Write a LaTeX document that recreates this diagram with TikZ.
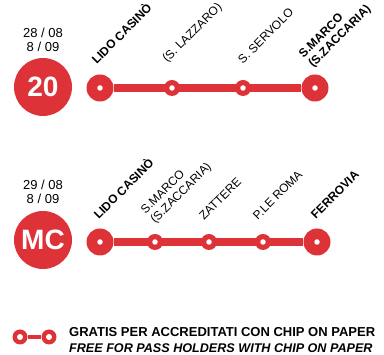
\documentclass[tikz,border=0pt]{standalone}
\usepackage{fontspec}
\setmainfont{Liberation Sans}
\usepackage{xcolor}
\usetikzlibrary{positioning}
\definecolor{linered}{RGB}{221,50,56}

\tikzset{
  bigstop/.style={circle, fill=linered, minimum size=27pt, inner sep=0pt},
  smallstop/.style={circle, fill=linered, minimum size=16pt, inner sep=0pt},
  hole/.style={circle, fill=white, minimum size=5.5pt, inner sep=0pt},
  linebadge/.style={circle, fill=linered, minimum size=58pt, inner sep=0pt, text=white, font=\fontsize{28}{28}\selectfont\bfseries},
  datelbl/.style={align=center, font=\fontsize{13}{14}\selectfont, inner sep=0pt},
  stoplbl/.style={rotate=45, anchor=south west, align=left, inner sep=0pt, font=\fontsize{12}{13.5}\selectfont},
  boldlbl/.style={stoplbl, font=\fontsize{12}{13.5}\selectfont\bfseries},
  track/.style={draw=linered, line width=7.5pt}
}

\begin{document}
\begin{tikzpicture}[x=1pt,y=1pt]
  \useasboundingbox (0,0) rectangle (384,355);

  % line 20
  \node [datelbl] (d20) at (43,315) {28 / 08\\8 / 09};
  \node [linebadge] (b20) at (43,268) {20};
  \node [bigstop] (a1) at (100,267) {};
  \node [smallstop] (a2) at (172,267) {};
  \node [smallstop] (a3) at (243,267) {};
  \node [bigstop] (a4) at (315,267) {};
  \draw [track] (a1) -- (a4);
  \foreach \s in {a1,a2,a3,a4} \node [hole] at (\s) {};
  \node [boldlbl] (l1) at (97,290) {LIDO CASINÒ};
  \node [stoplbl] (l2) at (169,290) {(S. LAZZARO)};
  \node [stoplbl] (l3) at (243,290) {S. SERVOLO};
  \node [boldlbl] (l4) at (315,285) {S.MARCO\\(S.ZACCARIA)};

  % line MC
  \node [datelbl] (dmc) at (43,163) {29 / 08\\8 / 09};
  \node [linebadge] (bmc) at (43,115) {MC};
  \node [bigstop] (m1) at (100,113) {};
  \node [smallstop] (m2) at (155,113) {};
  \node [smallstop] (m3) at (209,113) {};
  \node [smallstop] (m4) at (263,113) {};
  \node [bigstop] (m5) at (317,113) {};
  \draw [track] (m1) -- (m5);
  \foreach \s in {m1,m2,m3,m4,m5} \node [hole] at (\s) {};
  \node [boldlbl] (k1) at (99,135) {LIDO CASINÒ};
  \node [stoplbl] (k2) at (157,129) {S.MARCO\\(S.ZACCARIA)};
  \node [stoplbl] (k3) at (204,134) {ZATTERE};
  \node [stoplbl] (k4) at (258,134) {P.LE ROMA};
  \node [boldlbl] (k5) at (316,135) {FERROVIA};

  % legend
  \node [circle, fill=linered, minimum size=15pt, inner sep=0pt] (g1) at (20,18) {};
  \node [circle, fill=linered, minimum size=15pt, inner sep=0pt] (g2) at (49,18) {};
  \draw [draw=linered, line width=3.5pt] (g1) -- (g2);
  \node [hole, minimum size=6pt] at (g1) {};
  \node [hole, minimum size=6pt] at (g2) {};
  \node [anchor=west, inner sep=0pt, font=\fontsize{13}{13}\selectfont\bfseries] (t1) at (69,23) {GRATIS PER ACCREDITATI CON CHIP ON PAPER};
  \node [anchor=west, inner sep=0pt, font=\fontsize{12.6}{13}\selectfont\bfseries\itshape] (t2) at (69,7) {FREE FOR PASS HOLDERS WITH CHIP ON PAPER};
\end{tikzpicture}
\end{document}
